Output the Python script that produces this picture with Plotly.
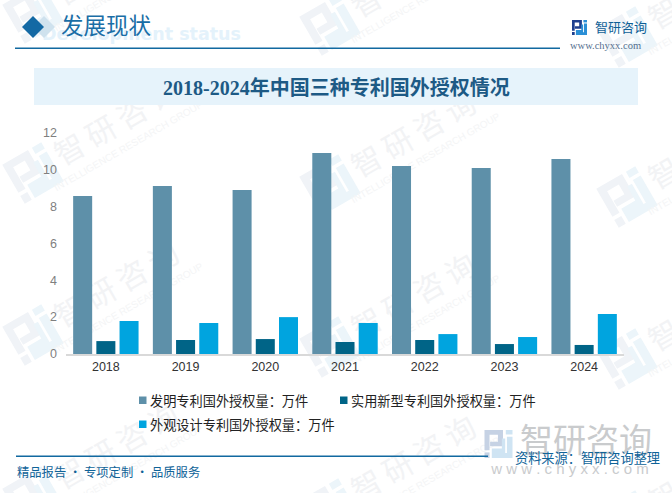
import math
import plotly.graph_objects as go

W, H = 672, 493

years = ["2018", "2019", "2020", "2021", "2022", "2023", "2024"]
name_invention = "发明专利国外授权量：万件"
name_utility = "实用新型专利国外授权量：万件"
name_design = "外观设计专利国外授权量：万件"
invention = [8.57, 9.11, 8.89, 10.9, 10.2, 10.09, 10.57]
utility = [0.70, 0.76, 0.81, 0.65, 0.76, 0.54, 0.49]
design = [1.79, 1.68, 2.0, 1.68, 1.08, 0.92, 2.17]
y_ticks = [0, 2, 4, 6, 8, 10, 12]

C1, C2, C3 = "#5e90a9", "#006487", "#00a4df"
SANS = "Noto Sans CJK SC, sans-serif"
SERIF = "Liberation Serif, Noto Sans CJK SC, serif"
BLUE = "#1169a0"


def px(x):
    return x / W


def py(y):
    return 1 - y / H


shapes = []
annotations = []


def poly(pts, fill, opacity=1.0):
    d = "M " + " L ".join(f"{px(x):.5f},{py(y):.5f}" for x, y in pts) + " Z"
    shapes.append(dict(type="path", xref="paper", yref="paper", path=d, fillcolor=fill,
                       line_width=0, opacity=opacity, layer="below"))


def rect(x0, y0, x1, y1, fill):
    shapes.append(dict(type="rect", xref="paper", yref="paper", x0=px(x0), x1=px(x1),
                       y0=py(y1), y1=py(y0), fillcolor=fill, line_width=0, layer="below"))


def text(x, y, s, size, color, anchor="left", family=SANS, bold=False):
    annotations.append(dict(xref="paper", yref="paper", x=px(x), y=py(y), text=f"<b>{s}</b>" if bold else s,
                            showarrow=False, xanchor=anchor, yanchor="middle",
                            font=dict(size=size, color=color, family=family)))


def below_text(x, y, s, size, color, family=SANS, angle=0, bold=False, anchor="middle center"):
    """Text drawn as a shape label: stays under the bars and does not push the margins."""
    shapes.append(dict(type="rect", xref="paper", yref="paper", x0=px(x - 1), x1=px(x + 1),
                       y0=py(y + 1), y1=py(y - 1), line_width=0, fillcolor="rgba(0,0,0,0)", layer="below",
                       label=dict(text=f"<b>{s}</b>" if bold else s, textangle=angle, textposition=anchor,
                                  font=dict(size=size, color=color, family=family))))


# logo pieces in a unit square
LOGO_DARK = [
    [(0, 0), (.66, 0), (.66, .58), (.2, .58), (.2, .42), (.48, .42), (.48, .17), (.18, .17), (.18, .72), (0, .72)],
    [(0, .8), (.18, .8), (.18, 1), (0, 1)],
]
LOGO_LIGHT = [
    [(.76, 0), (1, 0), (1, .16), (.76, .16)],
    [(.8, .24), (1, .24), (1, 1), (.26, 1), (.26, .66), (.62, .66), (.62, .3), (.74, .3), (.74, .82), (.8, .82)],
]


def logo(cx, cy, size, dark, light, angle=0.0, opacity=1.0):
    a = math.radians(angle)
    def tr(p):
        u, v = (p[0] - .5) * size, (p[1] - .5) * size
        return cx + u * math.cos(a) - v * math.sin(a), cy + u * math.sin(a) + v * math.cos(a)
    for piece in LOGO_DARK:
        poly([tr(p) for p in piece], dark, opacity)
    for piece in LOGO_LIGHT:
        poly([tr(p) for p in piece], light, opacity)


# repeated watermark
WM_TXT, WM_SUB = "#f2f3f5", "#f4f5f6"
for col, lx in enumerate([33, 330, 627]):
    for ly0 in [13, 173, 335, 497]:
        ly = ly0 + 12 * col
        logo(lx, ly, 45, "#f0f3f7", "#ecf5fa", angle=-30)
        below_text(lx + 85, ly - 48, "智\u2009研\u2009咨\u2009询", 30, WM_TXT, angle=-30)
        below_text(lx + 95, ly - 28, "INTELLIGENCE RESEARCH GROUP", 10, WM_SUB,
                   family="Liberation Sans, sans-serif", angle=-30)

# header
below_text(246, 32, "Development status", 17.5, "#e4f2fb", family="DejaVu Sans, sans-serif", bold=True,
           anchor="middle right")
poly([(44, 16), (55, 27), (44, 38), (33, 27)], "#cfe2ee")
poly([(33, 16), (44, 27), (33, 38), (22, 27)], "#1369a4")
text(59, 27, "发展现状", 22.5, "#1a6ea6", family=SERIF)
rect(15, 47.5, 560, 49, BLUE)
logo(579.5, 27.5, 15, "#1f3f8f", "#2a8fd6")
text(593, 27, "智研咨询", 13, "#0f5f96")
text(568, 46, "www.chyxx.com", 10.5, "#55708f", family=SERIF)

# title band
rect(34, 68, 638, 105, "#e6f3fb")
text(336, 88, "2018-2024年中国三种专利国外授权情况", 20, "#1d5a85", "center", family=SERIF, bold=True)

# legend
leg = [(139, 400, C1, name_invention), (340, 400, C2, name_utility), (139, 424, C3, name_design)]
for x, y, c, s in leg:
    rect(x, y - 3.5, x + 7.5, y + 4, c)
    text(x + 8.5, y, s, 13.2, "#222222")

# footer
logo(498.5, 444, 28, "#c6d2e4", "#cfe4f3")
below_text(586, 443, "智研咨询", 33, "#c9cbcd")
below_text(570, 467, "w w w . c h y x x . c o m", 15, "#c9cbcd", family="Liberation Sans, sans-serif")
rect(16, 455.5, 488, 457, BLUE)
text(15, 472, "精品报告 · 专项定制 · 品质服务", 12.3, "#0f6398")
text(662, 457, "资料来源：智研咨询整理", 13.2, "#0f6398", "right")

fig = go.Figure()
for name, vals, col in [(name_invention, invention, C1), (name_utility, utility, C2), (name_design, design, C3)]:
    fig.add_trace(go.Bar(x=years, y=vals, name=name, marker=dict(color=col, line_width=0)))

fig.update_layout(
    width=W, height=H, margin=dict(l=0, r=0, t=0, b=0, autoexpand=False), autosize=False,
    paper_bgcolor="white", plot_bgcolor="rgba(0,0,0,0)", showlegend=False,
    barmode="group", bargap=0.127, bargroupgap=0.18,
    shapes=shapes, annotations=annotations,
    xaxis=dict(domain=[px(66), px(624)], type="category", showgrid=False, ticks="",
               showline=True, linecolor="#d9d9d9", linewidth=1.5, zeroline=False,
               tickfont=dict(size=12.5, color="#333333", family="Liberation Sans, sans-serif")),
    yaxis=dict(domain=[py(354), py(132.7)], range=[0, 12], tickvals=y_ticks, showgrid=False,
               zeroline=False, showline=False, ticks="", ticklen=0, ticklabelstandoff=8,
               tickfont=dict(size=12.5, color="#7f7f7f", family="Liberation Sans, sans-serif")),
)
fig.write_html("out.html", post_script="document.body.style.margin='0';", config={"displayModeBar": False})
